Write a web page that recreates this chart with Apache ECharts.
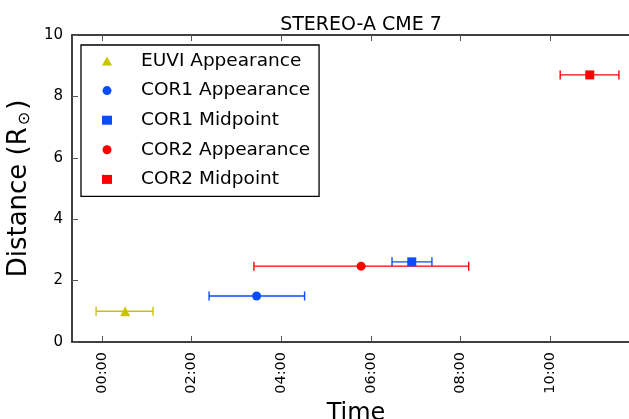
<!DOCTYPE html>
<html>
<head>
<meta charset="utf-8">
<script src="https://cdn.jsdelivr.net/npm/echarts@6/dist/echarts.min.js"></script>
<style>html,body{margin:0;padding:0;background:#fff}#c{width:629px;height:419px}</style>
</head>
<body>
<div id="c"></div>
<script>
// Data (time in hours since 00:00, distance in solar radii)
const seriesNames = ['EUVI Appearance', 'COR1 Appearance', 'COR1 Midpoint', 'COR2 Appearance', 'COR2 Midpoint'];
const times =      [0.52, 3.45, 6.91, 5.78, 10.88];
const distances =  [1.00, 1.50, 2.61, 2.47, 8.70];
const errLow =     [-0.13, 2.39, 6.47, 3.39, 10.22];
const errHigh =    [1.14, 4.52, 7.36, 8.18, 11.53];
const colors =     ['#c8c400', '#0a4dff', '#0a4dff', '#ff0000', '#ff0000'];
const symbols =    ['triangle', 'circle', 'rect', 'circle', 'rect'];
const xTickValues = [0, 2, 4, 6, 8, 10];
const yTickValues = [0, 2, 4, 6, 8, 10];

function fmtTime(h) {
  const hh = Math.floor(h + 1e-9);
  const mm = Math.round((h - hh) * 60);
  return String(hh).padStart(2, '0') + ':' + String(mm).padStart(2, '0');
}

const font = 'DejaVu Sans';
const series = [];
seriesNames.forEach((name, i) => {
  series.push({
    type: 'custom',
    name: name + ' err',
    silent: true,
    z: 2,
    data: [[errLow[i], errHigh[i], distances[i]]],
    renderItem: function (params, api) {
      const a = api.coord([api.value(0), api.value(2)]);
      const b = api.coord([api.value(1), api.value(2)]);
      const cap = 4.5;
      const st = { stroke: colors[i], lineWidth: 1.4 };
      return {
        type: 'group',
        children: [
          { type: 'line', shape: { x1: a[0], y1: a[1], x2: b[0], y2: b[1] }, style: st },
          { type: 'line', shape: { x1: a[0], y1: a[1] - cap, x2: a[0], y2: a[1] + cap }, style: st },
          { type: 'line', shape: { x1: b[0], y1: b[1] - cap, x2: b[0], y2: b[1] + cap }, style: st }
        ]
      };
    }
  });
  series.push({
    type: 'scatter',
    name: name,
    z: 3,
    symbol: symbols[i],
    symbolSize: symbols[i] === 'triangle' ? 10 : 9,
    itemStyle: { color: colors[i], opacity: 1 },
    data: [[times[i], distances[i]]]
  });
});

const chart = echarts.init(document.getElementById('c'), null, { renderer: 'canvas' });
chart.setOption({
  animation: false,
  backgroundColor: '#fff',
  textStyle: { fontFamily: font },
  title: {
    text: 'STEREO-A CME 7',
    left: 356, textAlign: 'center', top: 11,
    textStyle: { fontFamily: font, fontSize: 19, fontWeight: 'normal', color: '#000' }
  },
  legend: {
    data: seriesNames.map((n, i) => ({ name: n, icon: symbols[i], itemStyle: { color: colors[i], opacity: 1 } })),
    orient: 'vertical',
    left: 81, top: 45,
    padding: [6, 9, 7, 21],
    itemGap: 9.6,
    itemWidth: 10, itemHeight: 9,
    borderColor: '#000', borderWidth: 1.3,
    backgroundColor: '#fff',
    textStyle: { fontFamily: font, fontSize: 18.5, color: '#000', padding: [0, 0, 0, 24], lineHeight: 20 },
    selectedMode: false
  },
  grid: { left: 72, right: -11, top: 35, bottom: 77, outerBoundsMode: 'none', containLabel: false },
  xAxis: [{
    type: 'value',
    min: -2 / 3, max: 12,
    name: 'Time', nameLocation: 'middle', nameGap: 49,
    nameTextStyle: { fontFamily: font, fontSize: 24, color: '#000' },
    axisLine: { show: true, onZero: false, lineStyle: { color: '#000', width: 1.5 } },
    axisTick: { show: true, inside: true, length: 6, customValues: xTickValues, lineStyle: { color: '#555' } },
    axisLabel: { customValues: xTickValues, rotate: 90, margin: 10, fontSize: 14.5, color: '#000', fontFamily: font, formatter: v => fmtTime(v) },
    splitLine: { show: false }
  }, {
    type: 'value', position: 'top',
    min: -2 / 3, max: 12,
    axisLine: { show: true, onZero: false, lineStyle: { color: '#000', width: 1.5 } },
    axisTick: { show: true, inside: true, length: 6, customValues: xTickValues, lineStyle: { color: '#555' } },
    axisLabel: { show: false },
    splitLine: { show: false }
  }],
  yAxis: {
    type: 'value', min: 0, max: 10, interval: 2,
    name: 'Distance (R{s|⊙})', nameLocation: 'middle', nameGap: 34, nameRotate: 90,
    nameTextStyle: {
      fontFamily: font, fontSize: 26, color: '#000',
      rich: { s: { fontFamily: font, fontSize: 16, color: '#000', verticalAlign: 'bottom', padding: [12, 2, 0, 2] } }
    },
    axisLine: { show: true, onZero: false, lineStyle: { color: '#000', width: 1.5 } },
    axisTick: { show: true, inside: true, length: 6, lineStyle: { color: '#555' } },
    axisLabel: { fontSize: 15, color: '#000', fontFamily: font, margin: 9, customValues: yTickValues },
    splitLine: { show: false }
  },
  series: series
});
</script>
</body>
</html>
